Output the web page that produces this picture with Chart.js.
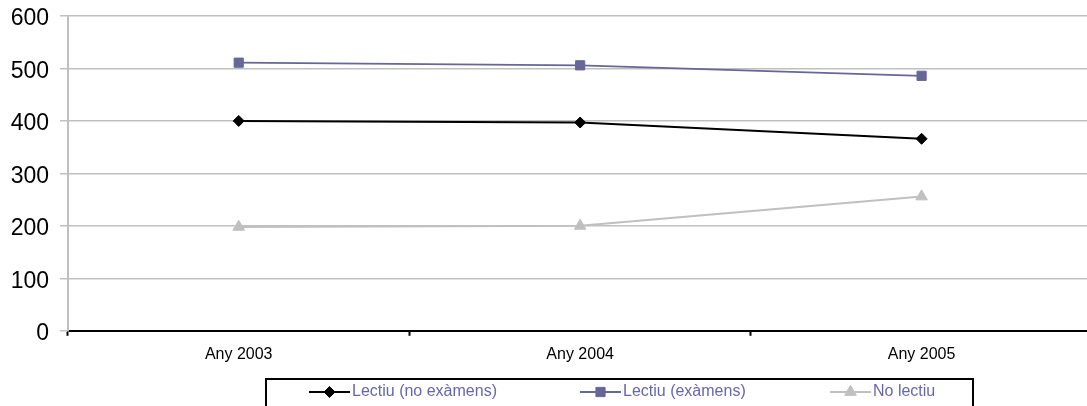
<!DOCTYPE html>
<html>
<head>
<meta charset="utf-8">
<script src="https://cdn.jsdelivr.net/npm/chart.js"></script>
<style>
  html, body { margin: 0; padding: 0; background: #fff; overflow: hidden; }
  body { width: 1087px; height: 406px; }
  #wrap { position: relative; width: 1100px; height: 406px; }
</style>
</head>
<body>
<div id="wrap"><canvas id="chart"></canvas></div>
<script>
'use strict';

const years        = ['Any 2003', 'Any 2004', 'Any 2005'];
const seriesNames  = ['Lectiu (no exàmens)', 'Lectiu (exàmens)', 'No lectiu'];
const noExamens    = [400, 397, 366];
const examens      = [511, 506, 486];
const noLectiu     = [198, 200, 256];
const yTicks       = [0, 100, 200, 300, 400, 500, 600];

const colors  = ['#000000', '#666699', '#c0c0c0'];
const markers = ['rectRot', 'rect', 'triangle'];
const radii   = [5.5, 6.5, 6.7];

const FONT = "'Liberation Sans', Arial, sans-serif";

// boxed legend under the axis, drawn on the canvas
const boxLegend = {
  id: 'boxLegend',
  afterDraw(chart) {
    const ctx = chart.ctx;
    const box = { x: 266, y: 379, w: 707, h: 60 };
    const itemX = [309, 580, 830];
    const cy = box.y + 13;
    ctx.save();
    ctx.strokeStyle = '#000';
    ctx.lineWidth = 2;
    ctx.strokeRect(box.x, box.y, box.w, box.h);
    chart.data.datasets.forEach((ds, i) => {
      const x0 = itemX[i];
      ctx.strokeStyle = ds.borderColor;
      ctx.lineWidth = 2;
      ctx.beginPath();
      ctx.moveTo(x0, cy);
      ctx.lineTo(x0 + 41, cy);
      ctx.stroke();
      ctx.fillStyle = ds.pointBackgroundColor;
      ctx.strokeStyle = ds.pointBorderColor;
      ctx.lineWidth = 1;
      Chart.helpers.drawPoint(ctx, { pointStyle: ds.pointStyle, radius: ds.pointRadius, rotation: 0, borderWidth: 1 }, x0 + 20.5, cy);
      ctx.fillStyle = '#6666aa';
      ctx.font = '16px ' + FONT;
      ctx.textBaseline = 'middle';
      ctx.textAlign = 'left';
      ctx.fillText(ds.label, x0 + 43, cy);
    });
    ctx.restore();
  }
};

const allSeries = [noExamens, examens, noLectiu];

new Chart(document.getElementById('chart').getContext('2d'), {
  type: 'line',
  data: {
    labels: years,
    datasets: allSeries.map((data, i) => ({
      label: seriesNames[i],
      data,
      borderColor: colors[i],
      backgroundColor: colors[i],
      pointBackgroundColor: colors[i],
      pointBorderColor: colors[i],
      pointBorderWidth: 1,
      pointStyle: markers[i],
      pointRadius: radii[i],
      borderWidth: i === 1 ? 1.8 : 2,
      tension: 0,
      fill: false
    }))
  },
  options: {
    responsive: true, maintainAspectRatio: false, animation: false,
    layout: { padding: { top: 16, left: 8, right: 6, bottom: 33 } },
    plugins: { legend: { display: false }, tooltip: { enabled: false } },
    scales: {
      x: {
        offset: true,
        grid: { offset: true, drawOnChartArea: false, drawTicks: true, tickLength: 5, color: '#000', tickWidth: 2 },
        border: { color: '#000', width: 2 },
        ticks: { color: '#000', padding: 9, font: { family: FONT, size: 16 } }
      },
      y: {
        min: 0, max: 600,
        afterBuildTicks: s => { s.ticks = yTicks.map(v => ({ value: v })); },
        afterFit: s => { s.width = 60; s.paddingTop = 0; s.paddingBottom = 0; },
        grid: { color: '#c0c0c0', lineWidth: 1.5, tickLength: 8 },
        border: { color: '#bfbfbf', width: 2 },
        ticks: { color: '#000', padding: 11, labelOffset: 3, font: { family: FONT, size: 23 } }
      }
    }
  },
  plugins: [boxLegend]
});
</script>
</body>
</html>
